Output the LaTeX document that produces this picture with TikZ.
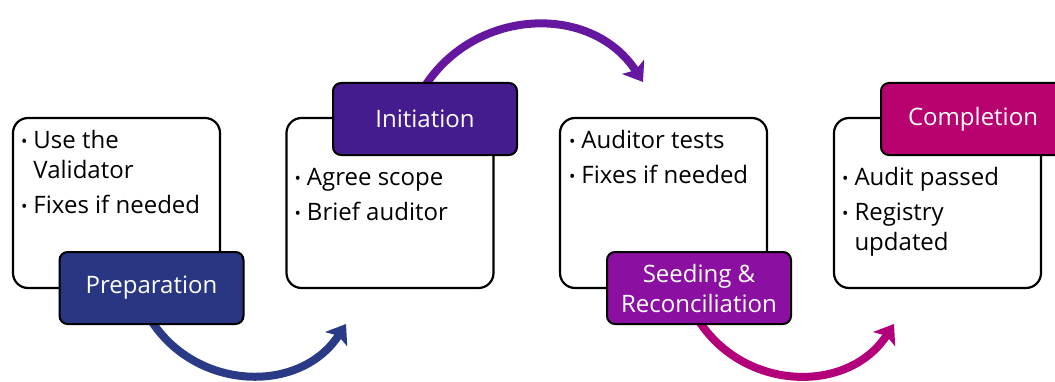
\documentclass[tikz,border=0pt]{standalone}
\usepackage{fontspec}
\setmainfont{Open Sans}
\usetikzlibrary{arrows.meta,backgrounds}
\definecolor{prepblue}{RGB}{41,54,130}
\definecolor{initpurple}{RGB}{69,28,142}
\definecolor{seedviolet}{RGB}{139,15,160}
\definecolor{complmagenta}{RGB}{184,2,111}
\definecolor{flowblue}{RGB}{42,58,135}
\definecolor{flowpurple}{RGB}{101,23,160}
\definecolor{flowmagenta}{RGB}{179,0,122}
\newcommand{\bul}{{\fontsize{17}{17}\selectfont\raisebox{1pt}{\textbullet}}}
\begin{document}
\begin{tikzpicture}[x=1pt,y=1pt,
	stagebox/.style={draw=black, line width=2.2pt, fill=white, rounded corners=15pt,
		minimum width=207pt, minimum height=170pt, inner sep=0pt},
	stagelabel/.style={draw=black, line width=2pt, rounded corners=8pt,
		minimum width=184pt, minimum height=72pt, inner sep=0pt, text=white,
		align=center, font=\fontsize{24}{30}\selectfont},
	items/.style={anchor=base west, inner sep=0pt, font=\fontsize{24}{30}\selectfont},
	flow/.style={line width=8pt, -{Stealth[length=18pt,width=26pt,inset=4pt]}, looseness=1.1}]
	\useasboundingbox (0,0) rectangle (1055,381);
	
	\node[stagebox] (b1) at (116.5,178) {};
	\node[stagebox] (b2) at (390,178) {};
	\node[stagebox] (b3) at (663.5,178) {};
	\node[stagebox] (b4) at (937.5,178) {};
	
	\node[items] (t1) at ([shift={(9,-32)}]b1.north west)
		{\begin{tabular}[t]{@{}l@{\hspace{6pt}}l@{}}\bul & Use the\\ & Validator\\[5pt] \bul & Fixes if needed\end{tabular}};
	\node[items] (t2) at ([shift={(9,-69)}]b2.north west)
		{\begin{tabular}[t]{@{}l@{\hspace{6pt}}l@{}}\bul & Agree scope\\[5pt] \bul & Brief auditor\end{tabular}};
	\node[items] (t3) at ([shift={(10,-32)}]b3.north west)
		{\begin{tabular}[t]{@{}l@{\hspace{6pt}}l@{}}\bul & Auditor tests\\[5pt] \bul & Fixes if needed\end{tabular}};
	\node[items] (t4) at ([shift={(9,-69)}]b4.north west)
		{\begin{tabular}[t]{@{}l@{\hspace{6pt}}l@{}}\bul & Audit passed\\[5pt] \bul & Registry\\ & updated\end{tabular}};
	
	\node[stagelabel, fill=prepblue] (l1) at (151.5,93) {Preparation};
	\node[stagelabel, fill=initpurple] (l2) at (425,262) {Initiation};
	\node[stagelabel, fill=seedviolet] (l3) at (699,93) {Seeding \&\\Reconciliation};
	\node[stagelabel, fill=complmagenta] (l4) at (973,262) {Completion};
	
	\coordinate (a1) at (346,57);
	\coordinate (a2) at (643,299);
	\coordinate (a3) at (894,57);
	\begin{scope}[on background layer]
		\draw[flow, flowblue] ([yshift=4]l1.south) to[out=-57, in=-123] (a1);
		\draw[flow, flowpurple] ([yshift=-4]l2.north) to[out=57, in=123] (a2);
		\draw[flow, flowmagenta] ([yshift=4]l3.south) to[out=-57, in=-123] (a3);
	\end{scope}
\end{tikzpicture}
\end{document}
